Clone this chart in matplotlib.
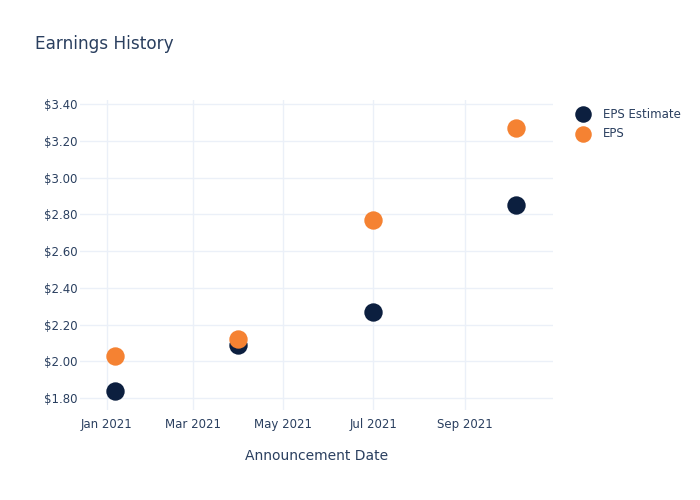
import matplotlib.pyplot as plt
import matplotlib.dates as mdates
import numpy as np
import datetime as dt

dates = [dt.date(2021, 1, 7), dt.date(2021, 3, 31), dt.date(2021, 7, 1), dt.date(2021, 10, 6)]
eps_estimate = [1.84, 2.09, 2.27, 2.85]
eps_actual = [2.03, 2.12, 2.77, 3.27]

text_color = '#2a3f5f'
grid_color = '#ebf0f8'
navy = '#0c1f3f'
orange = '#f58232'

plt.rcParams['font.family'] = ['DejaVu Sans']

fig = plt.figure(figsize=(7, 5), dpi=100)
ax = fig.add_axes([80 / 700, 90 / 500, 473 / 700, 310 / 500])

ax.scatter(dates, eps_estimate, s=175, color=navy, zorder=3, label='EPS Estimate', linewidths=0)
ax.scatter(dates, eps_actual, s=175, color=orange, zorder=3, label='EPS', linewidths=0)

ax.set_xlim(dt.date(2020, 12, 14), dt.date(2021, 10, 31))
ax.set_ylim(1.735, 3.422)

ax.xaxis.set_major_locator(mdates.MonthLocator(bymonth=[1, 3, 5, 7, 9]))
ax.xaxis.set_major_formatter(mdates.DateFormatter('%b %Y'))
ax.set_yticks(np.arange(1.8, 3.41, 0.2))
ax.yaxis.set_major_formatter(plt.FuncFormatter(lambda v, p: f'${v:.2f}'))

ax.grid(True, color=grid_color, linewidth=1)
ax.set_axisbelow(True)
for s in ax.spines.values():
    s.set_visible(False)
ax.tick_params(axis='x', length=0, colors=text_color, labelsize=8.5, pad=6)
ax.tick_params(axis='y', length=0, colors=text_color, labelsize=8.5, pad=2)

ax.set_xlabel('Announcement Date', color=text_color, fontsize=10, labelpad=13)
fig.text(35 / 700, 1 - 44 / 500, 'Earnings History', color=text_color, fontsize=12.2, va='center')

leg = ax.legend(loc='upper left', bbox_to_anchor=(568 / 700, 1 - 104 / 500), bbox_transform=fig.transFigure,
                frameon=False, fontsize=8.5, labelspacing=0.55, handletextpad=0.65, markerscale=0.9,
                borderaxespad=0, borderpad=0.3)
for t in leg.get_texts():
    t.set_color(text_color)

fig.savefig('out.png', dpi=100)
